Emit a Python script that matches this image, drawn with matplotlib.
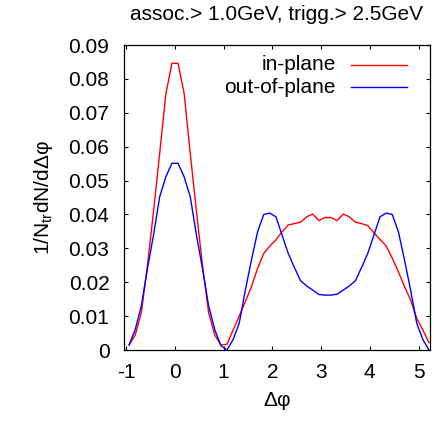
import numpy as np
import matplotlib
matplotlib.use("Agg")
import matplotlib.pyplot as plt

plt.rcParams["font.family"] = ["Liberation Sans", "DejaVu Sans"]
plt.rcParams["mathtext.fontset"] = "custom"
plt.rcParams["mathtext.rm"] = "Liberation Sans"

# bin centres (rad)
dphi = [-0.942, -0.817, -0.691, -0.565, -0.440, -0.314, -0.188, -0.063,
        0.063, 0.188, 0.314, 0.440, 0.565, 0.691, 0.817, 0.942,
        1.068, 1.194, 1.319, 1.445, 1.571, 1.696, 1.822, 1.948,
        2.073, 2.199, 2.325, 2.450, 2.576, 2.702, 2.827, 2.953,
        3.079, 3.204, 3.330, 3.456, 3.581, 3.707, 3.833, 3.958,
        4.084, 4.210, 4.335, 4.461, 4.587, 4.712, 4.838, 4.964,
        5.089, 5.215]

in_plane = [0.0015, 0.0044, 0.011, 0.025, 0.041, 0.058, 0.0755, 0.0846,
            0.0846, 0.0757, 0.058, 0.041, 0.025, 0.011, 0.0044, 0.0015,
            0.0017, 0.0059, 0.010, 0.0143, 0.0187, 0.0241, 0.0285, 0.0307,
            0.0325, 0.0349, 0.0369, 0.0373, 0.0377, 0.0393, 0.0401, 0.0382,
            0.0391, 0.0391, 0.0382, 0.0401, 0.0393, 0.0377, 0.0373, 0.0367,
            0.0346, 0.0326, 0.0307, 0.0271, 0.0231, 0.0187, 0.0148, 0.0093,
            0.0059, 0.0022]

out_of_plane = [0.0015, 0.006, 0.013, 0.024, 0.034, 0.0452, 0.0511, 0.0551,
                0.0551, 0.0511, 0.0452, 0.034, 0.024, 0.013, 0.006, 0.0013,
                0.0, 0.0031, 0.0079, 0.0177, 0.0266, 0.0349, 0.0400, 0.0404,
                0.0393, 0.0339, 0.0285, 0.0244, 0.0205, 0.0189, 0.0177, 0.0164,
                0.0162, 0.0162, 0.0165, 0.0177, 0.0189, 0.0205, 0.0244, 0.0285,
                0.0339, 0.0393, 0.0404, 0.0400, 0.0349, 0.0266, 0.0177, 0.0079,
                0.0031, 0.0]

xticks = [-1, 0, 1, 2, 3, 4, 5]
yticks = [0, 0.01, 0.02, 0.03, 0.04, 0.05, 0.06, 0.07, 0.08, 0.09]
ytick_labels = ["0", "0.01", "0.02", "0.03", "0.04", "0.05", "0.06", "0.07", "0.08", "0.09"]

fig = plt.figure(figsize=(4.35, 4.21), dpi=100)
ax = fig.add_axes([0.285, 0.1686, 0.7035, 0.7245])

ax.plot(dphi, in_plane, color="#ff0000", lw=1.0)
ax.plot(dphi, out_of_plane, color="#0000ff", lw=1.0)

ax.set_xlim(-np.pi / 3, 5 * np.pi / 3)
ax.set_ylim(0, 0.09)
ax.set_xticks(xticks)
ax.set_xticklabels([str(t) for t in xticks])
ax.set_yticks(yticks)
ax.set_yticklabels(ytick_labels)
ax.tick_params(direction="in", top=True, right=True, length=3, width=0.8,
               labelsize=15)
ax.tick_params(axis="y", pad=10.5)
ax.tick_params(axis="x", pad=9.5)
for s in ax.spines.values():
    s.set_linewidth(0.9)

# gnuplot style key: right aligned text, sample line to the right
key = [("in-plane", "#ff0000", 0.935), ("out-of-plane", "#0000ff", 0.861)]
for label, col, yy in key:
    ax.text(0.693, yy, label, transform=ax.transAxes, ha="right", va="center",
            fontsize=15)
    ax.plot([0.742, 0.925], [yy, yy], transform=ax.transAxes, color=col, lw=1.0)

ax.set_title("assoc.> 1.0GeV, trigg.> 2.5GeV", fontsize=15, pad=18)
ax.set_xlabel("\u0394\u03c6", fontsize=15, labelpad=6)
ax.set_ylabel("1/N$_{\\mathregular{tr}}$dN/d\u0394\u03c6", fontsize=15, labelpad=10)

fig.savefig("out.png", dpi=100)
